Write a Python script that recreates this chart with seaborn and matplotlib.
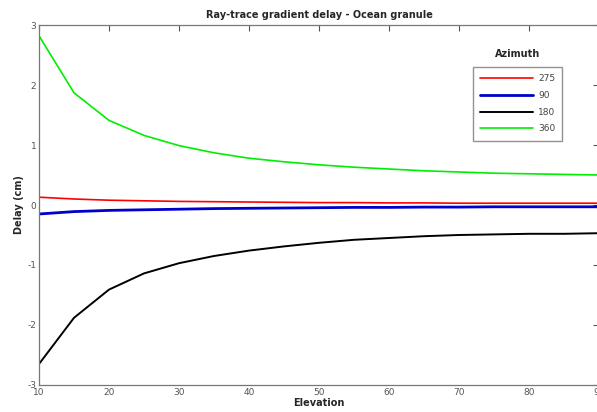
import numpy as np
import pandas as pd
import matplotlib
matplotlib.use("Agg")
import matplotlib.pyplot as plt
import seaborn as sns

# Elevation angles (degrees) and gradient delay (cm) per azimuth
elevation = [10, 15, 20, 25, 30, 35, 40, 45, 50, 55, 60, 65, 70, 75, 80, 85, 90]
delay_275 = [0.13, 0.10, 0.08, 0.07, 0.06, 0.055, 0.05, 0.045, 0.04, 0.04, 0.035, 0.035, 0.03, 0.03, 0.03, 0.03, 0.03]
delay_90 = [-0.15, -0.11, -0.09, -0.08, -0.07, -0.06, -0.055, -0.05, -0.045, -0.04, -0.04, -0.035, -0.035, -0.03, -0.03, -0.03, -0.03]
delay_180 = [-2.65, -1.88, -1.41, -1.14, -0.97, -0.85, -0.76, -0.69, -0.63, -0.58, -0.55, -0.52, -0.50, -0.49, -0.48, -0.48, -0.47]
delay_360 = [2.82, 1.87, 1.41, 1.16, 0.99, 0.87, 0.78, 0.72, 0.67, 0.63, 0.60, 0.57, 0.55, 0.53, 0.52, 0.51, 0.50]
azimuths = ["275", "90", "180", "360"]
colors = ["#ff0000", "#0000cc", "#000000", "#00ee00"]
widths = [1.2, 2.0, 1.4, 1.2]

sns.set_style("white")
plt.rcParams["font.family"] = ["DejaVu Sans"]
plt.rcParams["axes.unicode_minus"] = False

df = pd.DataFrame({
    "Elevation": elevation * 4,
    "Delay": delay_275 + delay_90 + delay_180 + delay_360,
    "Azimuth": np.repeat(azimuths, len(elevation)),
})

fig = plt.figure(figsize=(5.97, 4.12), dpi=100)
ax = fig.add_axes([39 / 597, 1 - 385 / 412, 560 / 597, 360 / 412])

for az, c, lw in zip(azimuths, colors, widths):
    sns.lineplot(data=df[df["Azimuth"] == az], x="Elevation", y="Delay",
                 color=c, linewidth=lw, label=az, ax=ax)

ax.set_xlim(10, 90)
ax.set_ylim(-3, 3)
ax.set_xticks(range(10, 91, 10))
ax.set_yticks(range(-3, 4))
ax.tick_params(direction="in", length=4, width=0.8, colors="#555555",
               labelsize=6.5, top=True, right=True, pad=2)
for s in ax.spines.values():
    s.set_color("#777777")
    s.set_linewidth(0.9)

ax.set_xlabel("Elevation", fontsize=7, fontweight="bold", labelpad=1)
ax.set_ylabel("Delay (cm)", fontsize=7, fontweight="bold", labelpad=2)
ax.set_title("Ray-trace gradient delay - Ocean granule", fontsize=7,
             fontweight="bold", pad=5)

leg = ax.legend(loc="upper left", bbox_to_anchor=(0.775, 0.883),
                borderaxespad=0, fontsize=6.5, frameon=True, fancybox=False,
                handlelength=5.9, borderpad=0.8, labelspacing=0.85,
                handletextpad=0.5)
leg.get_frame().set_edgecolor("#777777")
leg.get_frame().set_linewidth(1.0)
for t in leg.get_texts():
    t.set_color("#444444")
ax.text(0.854, 0.919, "Azimuth", transform=ax.transAxes, fontsize=7,
        fontweight="bold", ha="center", va="center")

fig.savefig("out.png", dpi=100)
